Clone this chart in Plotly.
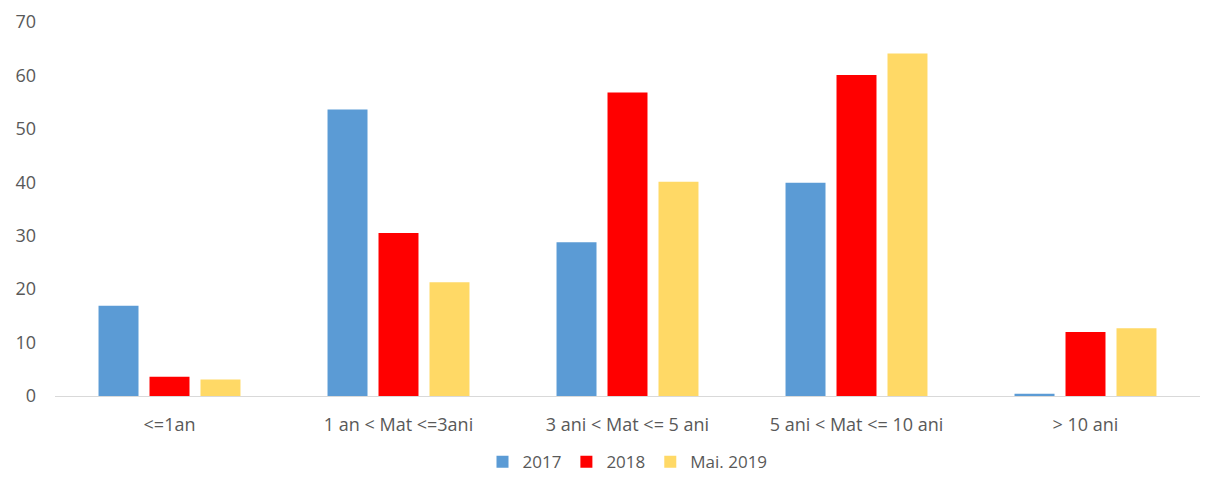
import plotly.graph_objects as go

categories = ["<=1an", "1 an < Mat <=3ani", "3 ani < Mat <= 5 ani", "5 ani < Mat <= 10 ani", "> 10 ani"]
series_names = ["2017", "2018", "Mai. 2019"]
values_2017 = [16.9, 53.6, 28.8, 39.9, 0.4]
values_2018 = [3.6, 30.5, 56.8, 60.1, 12.0]
values_2019 = [3.1, 21.3, 40.1, 64.1, 12.7]
colors = ["#5B9BD5", "#FF0000", "#FFD966"]
y_ticks = [0, 10, 20, 30, 40, 50, 60, 70]

fig = go.Figure()
for name, vals, col in zip(series_names, [values_2017, values_2018, values_2019], colors):
    fig.add_trace(go.Bar(x=categories, y=vals, name=name, marker=dict(color=col, line=dict(width=0))))

fig.update_layout(
    width=1213, height=479,
    margin=dict(l=55, r=13, t=22, b=83, autoexpand=False),
    paper_bgcolor="white", plot_bgcolor="white",
    barmode="group", bargap=0.332, bargroupgap=0.216,
    font=dict(family="Open Sans, Liberation Sans, sans-serif", size=18, color="#595959"),
    legend=dict(orientation="h", x=0.5, xanchor="center", xref="paper",
                y=0.035, yanchor="middle", yref="container",
                font=dict(size=17, color="#595959"), itemwidth=30,
                tracegroupgap=0, borderwidth=0),
    showlegend=True,
)
fig.update_xaxes(showline=True, linecolor="#D9D9D9", linewidth=1, showgrid=False, ticks="",
                 tickfont=dict(size=18, color="#595959"), ticklabelstandoff=12)
fig.update_yaxes(range=[0, 70], tickvals=y_ticks, showgrid=False, zeroline=False, showline=False,
                 tickfont=dict(size=18, color="#595959"), ticklabelstandoff=18)
fig.write_html("out.html")
